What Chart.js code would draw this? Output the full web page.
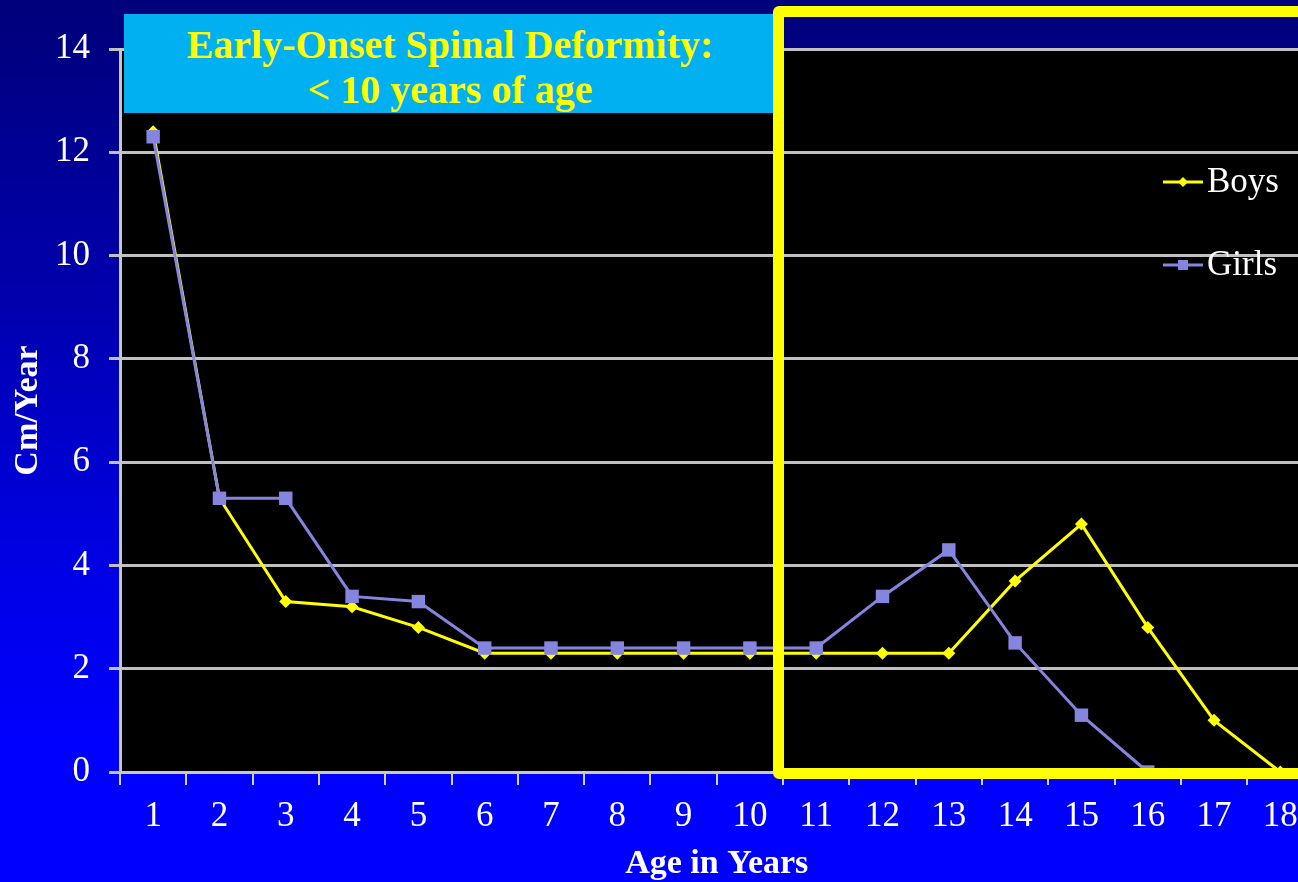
<!DOCTYPE html>
<html>
<head>
<meta charset="utf-8">
<script src="https://cdn.jsdelivr.net/npm/chart.js@4.4.1/dist/chart.umd.min.js"></script>
<style>
  html, body { margin: 0; padding: 0; width: 1298px; height: 882px; overflow: hidden; }
  body { background: linear-gradient(to bottom, #00007a 0%, #0000b0 35%, #0000e6 65%, #0000ff 85%, #0000ff 100%); position: relative; font-family: 'Liberation Serif', 'Times New Roman', serif; }
  #wrap { position: absolute; left: 0; top: 0; width: 1323px; height: 882px; }
  #titleBox { position: absolute; left: 124px; top: 14px; width: 652px; height: 99px; background: #00b0f0;
    color: #ffff00; font: bold 40px 'Liberation Serif', 'Times New Roman', serif; text-align: center; line-height: 45px; padding-top: 8px; box-sizing: border-box; }
  #frame { position: absolute; left: 773px; top: 6px; width: 620px; height: 773px; border: 11px solid #ffff00; border-radius: 6px; box-sizing: border-box; }
</style>
</head>
<body>
<div id="wrap"><canvas id="c"></canvas></div>
<div id="titleBox">Early-Onset Spinal Deformity:<br>&lt; 10 years of age</div>
<div id="frame"></div>
<script>
const ages = ['1','2','3','4','5','6','7','8','9','10','11','12','13','14','15','16','17','18'];
const boys = [12.4, 5.3, 3.3, 3.2, 2.8, 2.3, 2.3, 2.3, 2.3, 2.3, 2.3, 2.3, 2.3, 3.7, 4.8, 2.8, 1.0, 0];
const girls = [12.3, 5.3, 5.3, 3.4, 3.3, 2.4, 2.4, 2.4, 2.4, 2.4, 2.4, 3.4, 4.3, 2.5, 1.1, 0, null, null];
const yMin = 0, yMax = 14, yStep = 2;
const seriesNames = ['Boys', 'Girls'];
const xTitle = 'Age in Years';
const yTitle = 'Cm/Year';

const BOY_COLOR = '#ffff00';
const GIRL_COLOR = '#8585e0';
const SERIF = "'Liberation Serif', 'Times New Roman', serif";

const blackArea = {
  id: 'blackArea',
  beforeDraw(chart) {
    const {ctx, chartArea: a} = chart;
    ctx.save();
    ctx.fillStyle = '#000000';
    ctx.fillRect(a.left, a.top, a.right - a.left, a.bottom - a.top);
    ctx.restore();
  }
};

const sideLegend = {
  id: 'sideLegend',
  afterDraw(chart) {
    const ctx = chart.ctx;
    const rows = [{y: 182}, {y: 265}];
    const xs = 1163, xe = 1203, xm = 1183;
    chart.data.datasets.forEach((ds, i) => {
      const y = rows[i].y;
      ctx.save();
      ctx.strokeStyle = ds.borderColor;
      ctx.lineWidth = 3;
      ctx.beginPath(); ctx.moveTo(xs, y); ctx.lineTo(xe, y); ctx.stroke();
      ctx.fillStyle = ds.borderColor;
      if (ds.pointStyle === 'rectRot') {
        ctx.beginPath(); ctx.moveTo(xm, y - 5); ctx.lineTo(xm + 5, y); ctx.lineTo(xm, y + 5); ctx.lineTo(xm - 5, y); ctx.closePath(); ctx.fill();
      } else {
        ctx.fillRect(xm - 5, y - 5, 10, 10);
      }
      ctx.fillStyle = '#ffffff';
      ctx.font = '35px ' + SERIF;
      ctx.textBaseline = 'middle';
      ctx.textAlign = 'left';
      ctx.fillText(ds.label, xe + 4, y + 1);
      ctx.restore();
    });
  }
};

new Chart(document.getElementById('c'), {
  type: 'line',
  data: {
    labels: ages,
    datasets: [
      { label: seriesNames[0], data: boys, borderColor: BOY_COLOR, backgroundColor: BOY_COLOR, borderWidth: 3,
        pointStyle: 'rectRot', pointRadius: 6.5, pointBorderWidth: 0, tension: 0, order: 1, clip: false },
      { label: seriesNames[1], data: girls, borderColor: GIRL_COLOR, backgroundColor: GIRL_COLOR, borderWidth: 3,
        pointStyle: 'rect', pointRadius: 9.5, pointBorderWidth: 0, tension: 0, order: 0, clip: false }
    ]
  },
  options: {
    responsive: true,
    maintainAspectRatio: false,
    animation: false,
    layout: { padding: { top: 49, left: 0, right: 0, bottom: 0 } },
    plugins: { legend: { display: false }, tooltip: { enabled: false }, title: { display: false } },
    scales: {
      x: {
        type: 'category',
        offset: true,
        grid: { offset: true, drawOnChartArea: false, drawTicks: true, tickLength: 13, color: '#d0d0e0', lineWidth: 2 },
        border: { display: true, color: '#c8c8c8', width: 3 },
        ticks: { color: '#ffffff', font: { family: SERIF, size: 35 }, padding: 11, maxRotation: 0, autoSkip: false },
        title: { display: true, text: xTitle, color: '#ffffff', font: { family: SERIF, size: 34, weight: 'bold' }, padding: { top: 0, bottom: -3 } },
        afterFit(scale) { scale.height = 110; }
      },
      y: {
        min: yMin, max: yMax,
        grid: { color: '#c0c0c0', lineWidth: 3, tickLength: 11, drawTicks: true },
        border: { display: true, color: '#c8c8c8', width: 3 },
        ticks: { stepSize: yStep, color: '#ffffff', font: { family: SERIF, size: 35 }, padding: 19 },
        title: { display: true, text: yTitle, color: '#ffffff', font: { family: SERIF, size: 34, weight: 'bold' }, padding: { top: 8, bottom: 0 } },
        afterFit(scale) { scale.width = 120; }
      }
    }
  },
  plugins: [blackArea, sideLegend]
});
</script>
</body>
</html>
